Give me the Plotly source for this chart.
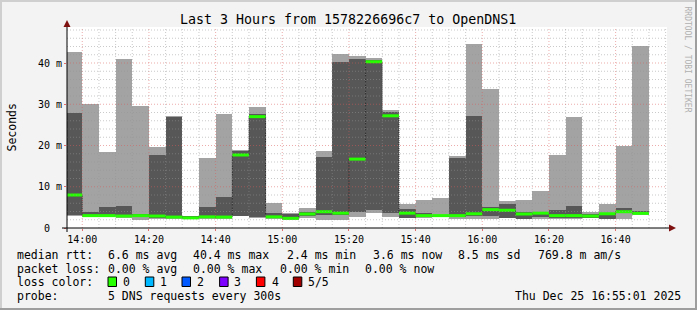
import plotly.graph_objects as go
import pandas as pd

DAY = "2025-12-25"

# ---------------- data (ms) ----------------
bar_start = ["13:55", "14:00", "14:05", "14:10", "14:15", "14:20", "14:25", "14:30",
             "14:35", "14:40", "14:45", "14:50", "14:55", "15:00", "15:05", "15:10",
             "15:15", "15:20", "15:25", "15:30", "15:35", "15:40", "15:45", "15:50",
             "15:55", "16:00", "16:05", "16:10", "16:15", "16:20", "16:25", "16:30",
             "16:35", "16:40", "16:45"]
ping_min = [3.0, 2.7, 2.7, 2.4, 2.0, 2.2, 2.3, 2.2, 2.3, 2.3, 2.9, 2.5, 2.3, 2.0, 2.5, 2.0,
            2.0, 2.7, 3.55, 2.6, 2.4, 2.5, 2.6, 2.3, 2.2, 2.3, 2.4, 2.2, 2.3, 2.3, 2.3, 2.4,
            2.1, 2.25, 3.2]
ping_p2 = [3.1, 2.8, 2.8, 2.7, 2.8, 2.4, 2.4, 2.3, 2.4, 2.5, 3.0, 2.6, 2.4, 2.1, 3.0, 3.05,
           3.05, 3.8, 4.4, 3.55, 2.5, 2.65, 2.8, 2.7, 3.0, 3.0, 2.5, 2.25, 2.65, 2.35, 2.35, 2.5,
           2.2, 3.65, 3.3]
ping_med = [8.0, 3.0, 3.0, 2.9, 3.0, 2.9, 2.65, 2.45, 2.7, 2.65, 17.7, 27.0, 2.7, 2.35, 3.4, 3.95,
            3.6, 16.7, 40.3, 27.2, 3.6, 3.0, 3.0, 3.0, 3.45, 4.45, 4.3, 3.4, 3.6, 3.0, 3.0, 2.9,
            3.45, 3.95, 3.55]
ping_p4 = [28.0, 3.9, 5.2, 5.4, 3.3, 17.8, 27.0, 2.9, 5.2, 7.6, 18.6, 27.7, 3.7, 3.5, 3.95, 17.3,
           40.3, 41.0, 40.8, 28.2, 4.6, 3.7, 3.2, 17.0, 27.2, 5.1, 5.9, 3.8, 3.95, 4.4, 5.4, 3.3,
           3.6, 4.9, 4.1]
ping_max = [42.7, 30.0, 18.5, 41.0, 29.6, 19.7, 27.1, 3.0, 17.0, 27.7, 18.8, 29.3, 6.1, 3.7, 4.9, 18.7,
            42.1, 41.8, 41.3, 28.7, 5.7, 6.9, 7.35, 17.5, 44.7, 33.8, 6.5, 6.9, 9.0, 17.8, 27.0, 3.8,
            5.7, 19.9, 44.2]

x_tick_labels = ["14:00", "14:20", "14:40", "15:00", "15:20", "15:40", "16:00", "16:20", "16:40"]
y_tick_values = [0, 10, 20, 30, 40]
y_tick_labels = ["0\u00a0\u00a0", "10 m", "20 m", "30 m", "40 m"]

stats_rtt = ["median rtt:", "6.6 ms avg", "40.4 ms max", "2.4 ms min", "3.6 ms now",
             "8.5 ms sd", "769.8 m am/s"]
stats_loss = ["packet loss:", "0.00 % avg", "0.00 % max", "0.00 % min", "0.00 % now"]
loss_labels = ["0", "1", "2", "3", "4", "5/5"]
loss_colors = ["#26ff00", "#00b8ff", "#0059ff", "#7e00ff", "#ff0000", "#a10000"]
title_text = "Last 3 Hours from 1578226696c7 to OpenDNS1"
probe_text = "5 DNS requests every 300s"
date_text = "Thu Dec 25 16:55:01 2025"

# ---------------- geometry helpers ----------------
W, H = 697, 310
PL, PR, PT, PB = 67, 667, 27, 228


def px(x):
    return (x - PL) / (PR - PL)


def py(y):
    return (PB - y) / (PB - PT)


MONO = "DejaVu Sans Mono"
STEP = pd.Timedelta(minutes=5)
starts = pd.to_datetime([f"{DAY} {t}" for t in bar_start])
centers = starts + STEP / 2
ends = starts + STEP

fig = go.Figure()
fig.add_trace(go.Bar(x=centers, base=ping_min,
                     y=[a - b for a, b in zip(ping_max, ping_min)],
                     width=STEP.total_seconds() * 1000, marker=dict(color="#a3a3a3", line_width=0),
                     hoverinfo="skip"))
fig.add_trace(go.Bar(x=centers, base=ping_p2,
                     y=[a - b for a, b in zip(ping_p4, ping_p2)],
                     width=STEP.total_seconds() * 1000, marker=dict(color="#575757", line_width=0),
                     hoverinfo="skip"))

# median connector (thin dark step line)
fig.add_trace(go.Scatter(x=list(starts) + [ends[-1]], y=ping_med + [ping_med[-1]],
                         mode="lines", line=dict(color="#202020", width=1, dash="1px,1px", shape="hv"),
                         hoverinfo="skip"))
# median green segments
gx, gy = [], []
for s, e, m in zip(starts, ends, ping_med):
    gx += [s, e, None]
    gy += [m, m, None]
fig.add_trace(go.Scatter(x=gx, y=gy, mode="lines", line=dict(color=loss_colors[0], width=3),
                         hoverinfo="skip"))

x0 = pd.Timestamp(f"{DAY} 13:55:25")
x1 = x0 + pd.Timedelta(minutes=180)
ymax = (PB - PT) / 4.125

shapes = []
# grid (drawn above data, like rrdtool)
t = pd.Timestamp(f"{DAY} 14:00")
while t <= x1:
    major = (t.minute % 20 == 0)
    shapes.append(dict(type="line", xref="x", yref="paper", x0=t, x1=t, y0=0, y1=1, layer="above",
                       line=dict(color="rgba(220,90,90,0.5)" if major else "rgba(150,150,150,0.5)",
                                 width=1, dash="1px,2px")))
    t += STEP
for v in range(2, int(ymax) + 1, 2):
    major = (v % 10 == 0)
    shapes.append(dict(type="line", xref="paper", yref="y", x0=0, x1=1, y0=v, y1=v, layer="above",
                       line=dict(color="rgba(220,90,90,0.5)" if major else "rgba(150,150,150,0.5)",
                                 width=1, dash="1px,2px")))
# axes lines + arrows
shapes.append(dict(type="line", xref="paper", yref="paper", x0=px(62), x1=px(670), y0=py(228), y1=py(228),
                   line=dict(color="#000000", width=1), layer="above"))
shapes.append(dict(type="line", xref="paper", yref="paper", x0=px(67), x1=px(67), y0=py(232), y1=py(26),
                   line=dict(color="#000000", width=1), layer="above"))
shapes.append(dict(type="path", xref="paper", yref="paper",
                   path=f"M {px(676)} {py(228)} L {px(669)} {py(224.5)} L {px(669)} {py(231.5)} Z",
                   fillcolor="#7f1010", line=dict(width=0), layer="above"))
shapes.append(dict(type="path", xref="paper", yref="paper",
                   path=f"M {px(67)} {py(20)} L {px(63.5)} {py(27)} L {px(70.5)} {py(27)} Z",
                   fillcolor="#7f1010", line=dict(width=0), layer="above"))
# loss colour boxes
box_x = [108, 145.3, 182, 219.6, 256.4, 293.3]
lab_x = [123, 160, 197, 234, 271.6, 308]
for bx, c in zip(box_x, loss_colors):
    shapes.append(dict(type="rect", xref="paper", yref="paper", x0=px(bx), x1=px(bx + 8.5),
                       y0=py(286.5), y1=py(277), fillcolor=c, line=dict(color="#000000", width=1)))
# frame
shapes.append(dict(type="rect", xref="paper", yref="paper", x0=px(0), x1=px(2), y0=py(0), y1=py(310),
                   fillcolor="#cfcfcf", line=dict(width=0)))
shapes.append(dict(type="rect", xref="paper", yref="paper", x0=px(0), x1=px(697), y0=py(0), y1=py(2),
                   fillcolor="#cfcfcf", line=dict(width=0)))
shapes.append(dict(type="rect", xref="paper", yref="paper", x0=px(695), x1=px(697), y0=py(0), y1=py(310),
                   fillcolor="#9e9e9e", line=dict(width=0)))
shapes.append(dict(type="rect", xref="paper", yref="paper", x0=px(0), x1=px(697), y0=py(308), y1=py(310),
                   fillcolor="#9e9e9e", line=dict(width=0)))

ann = []


def text(x, y, s, size=11.5, anchor="left", color="#000000", angle=0):
    ann.append(dict(x=px(x), y=py(y), xref="paper", yref="paper", text=s, showarrow=False,
                    xanchor=anchor, yanchor="middle", textangle=angle, borderpad=0,
                    font=dict(family=MONO, size=size, color=color)))


text(348, 19.5, title_text, size=13.3, anchor="center")
text(11, 127.5, "Seconds", angle=-90, anchor="center")
text(687, 59.5, "RRDTOOL / TOBI OETIKER", size=8, anchor="center", color="#b0b0b0", angle=90)
rtt_x = [15.8, 107.0, 191.8, 286.0, 371.7, 457.2, 536.5]
for xx, s in zip(rtt_x, stats_rtt):
    text(xx, 254.5, s)
loss_x = [15.8, 107.0, 191.8, 278.5, 364.0]
for xx, s in zip(loss_x, stats_loss):
    text(xx, 268.5, s)
text(15.8, 282, "loss color:")
for xx, s in zip(lab_x, loss_labels):
    text(xx - 0.6, 282, s)
text(15.8, 296, "probe:")
text(107.0, 296, probe_text)
text(681.5, 296, date_text, anchor="right")

fig.update_layout(
    width=W, height=H, margin=dict(l=PL, r=W - PR, t=PT, b=H - PB),
    paper_bgcolor="#f3f3f3", plot_bgcolor="#ffffff",
    barmode="overlay", bargap=0, showlegend=False,
    shapes=shapes, annotations=ann,
    xaxis=dict(type="date", range=[x0, x1], showgrid=False, zeroline=False, showline=False,
               tickvals=[pd.Timestamp(f"{DAY} {t}") for t in x_tick_labels], ticktext=x_tick_labels,
               ticks="outside", ticklen=2, tickcolor="#e07070",
               tickfont=dict(family=MONO, size=10, color="#000000")),
    yaxis=dict(range=[0, ymax], showgrid=False, zeroline=False, showline=False,
               tickvals=y_tick_values, ticktext=y_tick_labels,
               ticks="outside", ticklen=2, tickcolor="#e07070",
               tickfont=dict(family=MONO, size=10, color="#000000")),
)

fig.write_html("out.html")
